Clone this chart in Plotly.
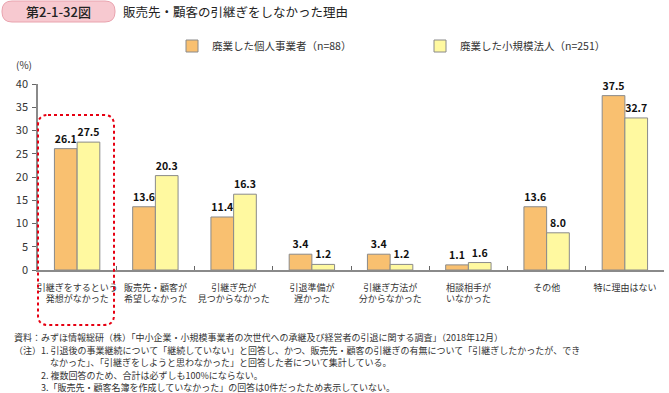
import plotly.graph_objects as go

categories = [
    "引継ぎをするという<br>発想がなかった",
    "販売先・顧客が<br>希望しなかった",
    "引継ぎ先が<br>見つからなかった",
    "引退準備が<br>遅かった",
    "引継ぎ方法が<br>分からなかった",
    "相談相手が<br>いなかった",
    "その他",
    "特に理由はない",
]
kojin = [26.1, 13.6, 11.4, 3.4, 3.4, 1.1, 13.6, 37.5]
houjin = [27.5, 20.3, 16.3, 1.2, 1.2, 1.6, 8.0, 32.7]
name_kojin = "廃業した個人事業者（n=88）"
name_houjin = "廃業した小規模法人（n=251）"
yticks = [0, 5, 10, 15, 20, 25, 30, 35, 40]

FONT = "Noto Sans CJK JP"
TXT = "#333333"

fig = go.Figure()
fig.add_trace(go.Bar(
    x=categories, y=kojin, name=name_kojin,
    marker=dict(color="#F9C070", line=dict(color="#8a8a8a", width=1)),
    text=[f"{v:.1f}" for v in kojin], textposition="outside",
    textfont=dict(size=10.5, color="#111111", family=FONT, weight=600),
    cliponaxis=False,
))
fig.add_trace(go.Bar(
    x=categories, y=houjin, name=name_houjin,
    marker=dict(color="#FFF9A0", line=dict(color="#8a8a8a", width=1)),
    text=[f"{v:.1f}" for v in houjin], textposition="outside",
    textfont=dict(size=10.5, color="#111111", family=FONT, weight=600),
    cliponaxis=False,
))

notes = [
    "資料：みずほ情報総研（株）「中小企業・小規模事業者の次世代への承継及び経営者の引退に関する調査」（2018年12月）",
    "（注）1. 引退後の事業継続について「継続していない」と回答し、かつ、販売先・顧客の引継ぎの有無について「引継ぎしたかったが、でき",
    "　　　　なかった」、「引継ぎをしようと思わなかった」と回答した者について集計している。",
    "　　　2. 複数回答のため、合計は必ずしも100%にならない。",
    "　　　3.「販売先・顧客名簿を作成していなかった」の回答は0件だったため表示していない。",
]
note_y = [337, 350, 362, 375, 387]

def px(x):
    return (x - 38) / 626
def py(y):
    return (393 - 123 - y) / 186

annotations = []
for t, yy in zip(notes, note_y):
    annotations.append(dict(
        text=t, xref="paper", yref="paper", x=px(12), y=py(yy),
        xanchor="left", yanchor="middle", showarrow=False,
        font=dict(size=9, color=TXT, family=FONT),
    ))
annotations.append(dict(
    text="第2-1-32図", xref="paper", yref="paper", x=px(58), y=py(12),
    xanchor="center", yanchor="middle", showarrow=False,
    font=dict(size=13, color="#222222", family=FONT, weight=500),
))
annotations.append(dict(
    text="販売先・顧客の引継ぎをしなかった理由", xref="paper", yref="paper",
    x=px(121), y=py(12),
    xanchor="left", yanchor="middle", showarrow=False,
    font=dict(size=12.5, color="#222222", family=FONT),
))
annotations.append(dict(
    text="(%)", xref="paper", yref="paper", x=px(14), y=py(64),
    xanchor="left", yanchor="middle", showarrow=False,
    font=dict(size=10, color=TXT, family=FONT),
))

def pill(x0, y0, x1, y1, r):
    X0, X1 = px(x0), px(x1)
    Y0, Y1 = py(y0), py(y1)
    rx = r / 626
    ry = r / 186
    return (f"M{X0+rx},{Y0} L{X1-rx},{Y0} Q{X1},{Y0} {X1},{Y0-ry} L{X1},{Y1+ry} "
            f"Q{X1},{Y1} {X1-rx},{Y1} L{X0+rx},{Y1} Q{X0},{Y1} {X0},{Y1+ry} "
            f"L{X0},{Y0-ry} Q{X0},{Y0} {X0+rx},{Y0} Z")

shapes = [
    dict(type="path", xref="paper", yref="paper", path=pill(2, 1, 115, 22, 10),
         line=dict(color="#E9A3AE", width=1), fillcolor="#F7C9D0", layer="below"),
    dict(type="path", xref="paper", yref="paper", path=pill(38, 115, 114, 325, 10),
         line=dict(color="#E60012", width=2, dash="dot"), fillcolor="rgba(0,0,0,0)"),
]

fig.update_layout(
    width=669, height=393,
    margin=dict(l=38, r=5, t=84, b=123, autoexpand=False),
    paper_bgcolor="white", plot_bgcolor="white",
    barmode="group", bargap=0.42, bargroupgap=0,
    font=dict(family=FONT, color=TXT, size=10),
    showlegend=True,
    legend=dict(orientation="h", x=px(172), y=py(46),
                xanchor="left", yanchor="middle", entrywidth=203, entrywidthmode="pixels",
                font=dict(size=10.5, color=TXT, family=FONT), bgcolor="rgba(0,0,0,0)",
                itemclick=False, traceorder="normal"),
    annotations=annotations,
    shapes=shapes,
    xaxis=dict(
        type="category", range=[-0.5, 7.5], automargin=False, tickangle=0,
        showline=True, linecolor="#8a8a8a", linewidth=1.5,
        ticks="inside", tickson="boundaries", ticklen=4, tickcolor="#666666",
        tickfont=dict(size=9, color=TXT, family=FONT),
        ticklabelstandoff=8, showgrid=False, zeroline=False,
    ),
    yaxis=dict(
        range=[0, 40], tickvals=yticks, ticktext=[str(v) for v in yticks],
        automargin=False,
        showline=True, linecolor="#8a8a8a", linewidth=1.5,
        ticks="outside", ticklen=4, tickcolor="#666666",
        tickfont=dict(size=11, color=TXT, family=FONT),
        showgrid=False, zeroline=False, ticklabelstandoff=2,
    ),
)

fig.write_html("out.html", config={"displayModeBar": False},
               post_script="document.body.style.margin='0';document.body.style.overflow='hidden';")
